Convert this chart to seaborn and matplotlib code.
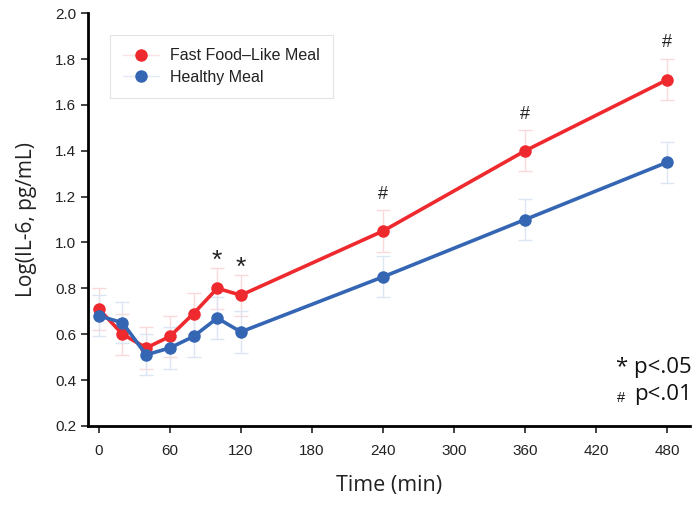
import matplotlib
matplotlib.use("Agg")
import matplotlib.pyplot as plt
import seaborn as sns
import pandas as pd
import numpy as np

time = [0, 20, 40, 60, 80, 100, 120, 240, 360, 480]
fast_food = [0.71, 0.60, 0.54, 0.59, 0.69, 0.80, 0.77, 1.05, 1.40, 1.71]
fast_err = [0.09, 0.09, 0.09, 0.09, 0.09, 0.09, 0.09, 0.09, 0.09, 0.09]
healthy = [0.68, 0.65, 0.51, 0.54, 0.59, 0.67, 0.61, 0.85, 1.10, 1.35]
healthy_err = [0.09, 0.09, 0.09, 0.09, 0.09, 0.09, 0.09, 0.09, 0.09, 0.09]
series_names = ["Fast Food\u2013Like Meal", "Healthy Meal"]
star_times = [100, 120]
hash_times = [240, 360, 480]
xticks = [0, 60, 120, 180, 240, 300, 360, 420, 480]
yticks = [0.2, 0.4, 0.6, 0.8, 1.0, 1.2, 1.4, 1.6, 1.8, 2.0]

red = "#ee2a2f"
blue = "#3566b4"

df = pd.DataFrame({
    "time": time * 2,
    "value": fast_food + healthy,
    "meal": [series_names[0]] * len(time) + [series_names[1]] * len(time),
})

sns.set_style("white")
plt.rcParams["font.family"] = ["Liberation Sans", "DejaVu Sans"]

fig = plt.figure(figsize=(6.94, 5.07), dpi=100)
ax = fig.add_axes([0.127, 0.16, 0.867, 0.814])

ax.errorbar(time, fast_food, yerr=fast_err, fmt="none", ecolor="#fad9db",
            elinewidth=1, capsize=5, capthick=1, zorder=1)
ax.errorbar(time, healthy, yerr=healthy_err, fmt="none", ecolor="#dce5f2",
            elinewidth=1, capsize=5, capthick=1, zorder=1)

sns.lineplot(data=df, x="time", y="value", hue="meal",
             palette={series_names[0]: red, series_names[1]: blue},
             marker="o", markersize=9, markeredgewidth=0, linewidth=2.6,
             ax=ax, legend=False, zorder=3)

from matplotlib.lines import Line2D
handles = [Line2D([0], [0], color="#fbe3e4", lw=1, marker="o", markersize=9,
                  markerfacecolor=red, markeredgewidth=0),
           Line2D([0], [0], color="#e3eaf5", lw=1, marker="o", markersize=9,
                  markerfacecolor=blue, markeredgewidth=0)]
leg = ax.legend(handles, series_names, loc="upper left",
                bbox_to_anchor=(0.036, 0.948), frameon=True, fancybox=False,
                fontsize=11.5, handlelength=2.2, borderpad=0.85,
                labelspacing=0.4, handletextpad=0.7, borderaxespad=0)
leg.get_frame().set_edgecolor("#dddddd")
leg.get_frame().set_linewidth(0.8)
for t in leg.get_texts():
    t.set_color("#222222")

for tt in star_times:
    v = fast_food[time.index(tt)]
    ax.text(tt, v + 0.12, "*", ha="center", va="center", fontsize=19,
            color="#222222")
for tt in hash_times:
    v = fast_food[time.index(tt)]
    ax.text(tt, v + 0.16, "#", ha="center", va="center", fontsize=13,
            color="#222222")

ax.text(1.003, 0.142, "* p<.05", transform=ax.transAxes, ha="right",
        va="center", fontsize=16, family=["Open Sans", "DejaVu Sans"],
        color="#111111")
ax.text(1.003, 0.075, "p<.01", transform=ax.transAxes, ha="right",
        va="center", fontsize=16, family=["Open Sans", "DejaVu Sans"],
        color="#111111")
ax.text(0.885, 0.068, "#", transform=ax.transAxes, ha="center",
        va="center", fontsize=10.5, color="#111111")

ax.set_xlim(-9, 499)
ax.set_ylim(0.2, 2.0)
ax.set_xticks(xticks)
ax.set_yticks(yticks)
ax.set_yticklabels([f"{v:.1f}" for v in yticks])
ax.tick_params(axis="both", labelsize=11, colors="#222222", length=5,
               width=1.2, direction="out", left=True, bottom=True)
ax.tick_params(axis="x", pad=8)
for s in ["top", "right"]:
    ax.spines[s].set_visible(False)
for s in ["left", "bottom"]:
    ax.spines[s].set_color("black")
    ax.spines[s].set_linewidth(2)

ax.set_xlabel("Time (min)", fontsize=15.5, family=["Open Sans", "DejaVu Sans"],
              color="#222222", labelpad=12)
ax.set_ylabel("Log(IL-6, pg/mL)", fontsize=15,
              family=["Open Sans", "DejaVu Sans"], color="#222222",
              labelpad=13)

fig.savefig("out.png", dpi=100)
